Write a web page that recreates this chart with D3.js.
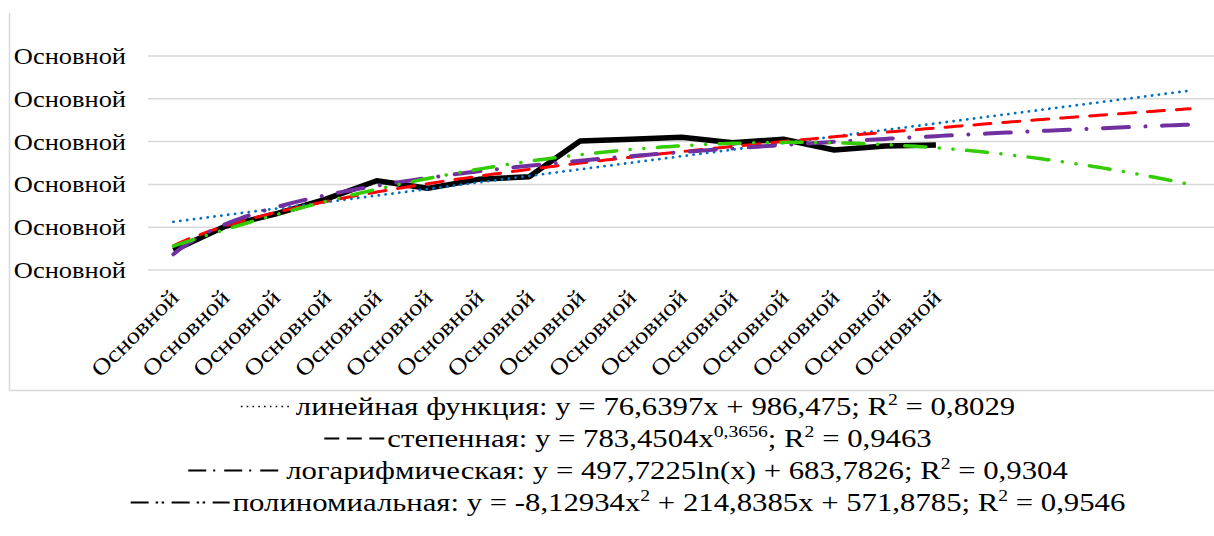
<!DOCTYPE html>
<html><head><meta charset="utf-8">
<script src="https://cdn.jsdelivr.net/npm/d3@7"></script>
<style>
html,body{margin:0;padding:0;background:#fff;}
svg{display:block;font-family:"Liberation Serif","Times New Roman",serif;}
</style></head>
<body><svg id="c" width="1214" height="536"></svg>
<script>
// ---- data ----
const categories = ["Основной","Основной","Основной","Основной","Основной","Основной","Основной","Основной",
                    "Основной","Основной","Основной","Основной","Основной","Основной","Основной","Основной"];
const values = [728, 1006, 1154, 1329, 1543, 1454, 1559, 1590, 2007, 2027, 2050, 1987, 2027, 1902, 1948, 1960];
const yTickValues = [500, 1000, 1500, 2000, 2500, 3000];
const yTickLabels = ["Основной","Основной","Основной","Основной","Основной","Основной"];
const forecastForward = 5;
const linearCoef = [76.6397, 986.475];        // a*x + b
const powerCoef = [783.4504, 0.3656];         // a*x^b
const logCoef = [497.7225, 683.7826];         // a*ln(x) + b
const polyCoef = [-8.12934, 214.8385, 571.8785]; // a*x^2 + b*x + c
const legendLabels = [
  [["линейная функция: y = 76,6397x + 986,475; R",0],["2",1],[" = 0,8029",0]],
  [["степенная: y = 783,4504x",0],["0,3656",1],["; R",0],["2",1],[" = 0,9463",0]],
  [["логарифмическая: y = 497,7225ln(x) + 683,7826; R",0],["2",1],[" = 0,9304",0]],
  [["полиномиальная: y = -8,12934x",0],["2",1],[" + 214,8385x + 571,8785; R",0],["2",1],[" = 0,9546",0]]
];

// ---- setup ----
const svg = d3.select("#c");
const nTotal = categories.length + forecastForward;
const x = d3.scaleLinear().domain([0.5, nTotal + 0.5]).range([148, 1215.5]);
const y = d3.scaleLinear().domain([500, 3000]).range([270, 56]);
const axisFs = 23, axisStretch = 1.15;

// chart border
svg.append("line").attr("x1",9.5).attr("x2",9.5).attr("y1",13).attr("y2",390.5)
  .attr("stroke","#d9d9d9").attr("stroke-width",1.5);
svg.append("line").attr("x1",9).attr("x2",1214).attr("y1",390.5).attr("y2",390.5)
  .attr("stroke","#d9d9d9").attr("stroke-width",1.5);

// gridlines
svg.append("g").selectAll("line").data(yTickValues).join("line")
  .attr("x1", x.range()[0]).attr("x2", x.range()[1])
  .attr("y1", d => y(d)).attr("y2", d => y(d))
  .attr("stroke","#d9d9d9").attr("stroke-width",1.5);

// y axis
const yAxis = d3.axisLeft(y).tickValues(yTickValues)
  .tickFormat((d,i) => yTickLabels[i]).tickSize(0).tickPadding(0);
const gy = svg.append("g").attr("transform","translate(126,0)").call(yAxis);
gy.select(".domain").remove();
gy.selectAll("text").attr("font-family","Liberation Serif, serif").attr("font-size",axisFs)
  .attr("fill","#000").attr("text-anchor","end").attr("x",0).attr("dy","0.33em")
  .attr("transform",`scale(${axisStretch},1)`);

// x axis
const xAxis = d3.axisBottom(x).tickValues(d3.range(1, categories.length + 1))
  .tickFormat(d => categories[d-1]).tickSize(0).tickPadding(0);
const gx = svg.append("g").attr("transform","translate(0,270)").call(xAxis);
gx.select(".domain").remove();
gx.selectAll("text").attr("font-family","Liberation Serif, serif").attr("font-size",axisFs)
  .attr("fill","#000").attr("text-anchor","end").attr("dy",null).attr("y",null)
  .attr("transform",`translate(6,29) rotate(-45) scale(${axisStretch},1)`);

// data line
const lineGen = d3.line().x((d,i) => x(i+1)).y(d => y(d));
svg.append("path").datum(values).attr("d", lineGen)
  .attr("fill","none").attr("stroke","#000").attr("stroke-width",5.5)
  .attr("stroke-linejoin","round");

// trendlines
const xs = d3.range(1, nTotal + 0.0001, 0.1);
const curve = f => d3.line().x(t => x(t)).y(t => y(f(t)))(xs);
const trends = [
  {f: t => linearCoef[0]*t + linearCoef[1], color:"#0070C0", w:2.8, dash:"0.1 6.8"},
  {f: t => powerCoef[0]*Math.pow(t, powerCoef[1]), color:"#FF0000", w:3, dash:"17 12"},
  {f: t => logCoef[0]*Math.log(t) + logCoef[1], color:"#7030A0", w:4, dash:"26 16.5 0.1 16.5"},
  {f: t => polyCoef[0]*t*t + polyCoef[1]*t + polyCoef[2], color:"#33CC00", w:3.5, dash:"21 13.5 0.1 13.7 0.1 13.5"}
];
trends.forEach(tr => {
  svg.append("path").attr("d", curve(tr.f)).attr("fill","none")
    .attr("stroke", tr.color).attr("stroke-width", tr.w)
    .attr("stroke-dasharray", tr.dash).attr("stroke-linecap","round");
});

// legend
const legendSyms = [
  {w:52, dash:"1.6 4.2", sw:1.6},
  {w:60, dash:"15 7.5", sw:2.2},
  {w:95, dash:"18 7 2 9", sw:2.2},
  {w:99, dash:"18 7 2.5 3.5 2.5 7.5", sw:2.2}
];
const baselines = [415, 447, 479, 511];
const cx = 628, gap = 3, fs = 25, legStretch = 1.23;
legendLabels.forEach((parts, i) => {
  const g = svg.append("g");
  const s = legendSyms[i];
  g.append("line").attr("x1",0).attr("x2",s.w).attr("y1",baselines[i]-8.5).attr("y2",baselines[i]-8.5)
    .attr("stroke","#000").attr("stroke-width",s.sw).attr("stroke-dasharray",s.dash);
  const t = g.append("text").attr("x", 0).attr("y", baselines[i])
    .attr("transform", `translate(${s.w + gap},0) scale(${legStretch},1)`)
    .attr("font-size", fs).attr("fill","#000");
  let prevSup = 0;
  parts.forEach(([txt, sup]) => {
    const ts = t.append("tspan").text(txt);
    if (sup && !prevSup) ts.attr("dy", -10).attr("font-size", 16);
    else if (!sup && prevSup) ts.attr("dy", 10);
    prevSup = sup;
  });
  const tw = t.node().getComputedTextLength() * legStretch;
  const total = s.w + gap + tw;
  g.attr("transform", `translate(${cx - total/2},0)`);
});
</script></body></html>
